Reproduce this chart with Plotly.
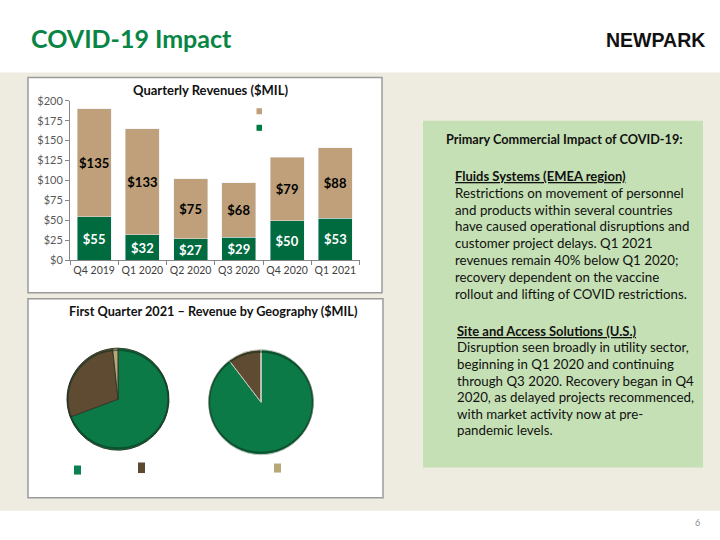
import plotly.graph_objects as go

# ---------------- data ----------------
quarters = ["Q4 2019", "Q1 2020", "Q2 2020", "Q3 2020", "Q4 2020", "Q1 2021"]
sas_revenue = [55, 32, 27, 29, 50, 53]          # green (bottom)
fluids_revenue = [135, 133, 75, 68, 79, 88]     # tan (top)

geo_labels = ["Region A", "Region B", "Region C"]
fluids_geo = [61, 25.5, 1.5]
sas_geo = [47.5, 5.5, 0]

yticks = [0, 25, 50, 75, 100, 125, 150, 175, 200]
yticklabels = ["$" + str(v) for v in yticks]

box_title = "Primary Commercial Impact of COVID-19:"
sec1_head = "Fluids Systems (EMEA region)"
sec1_lines = [
    "Restrictions on movement of personnel",
    "and products within several countries",
    "have caused operational disruptions and",
    "customer project delays. Q1 2021",
    "revenues remain 40% below Q1 2020;",
    "recovery dependent on the vaccine",
    "rollout and lifting of COVID restrictions.",
]
sec2_head = "Site and Access Solutions (U.S.)"
sec2_lines = [
    "Disruption seen broadly in utility sector,",
    "beginning in Q1 2020 and continuing",
    "through Q3 2020. Recovery began in Q4",
    "2020, as delayed projects recommenced,",
    "with market activity now at pre-",
    "pandemic levels.",
]

# ---------------- styling ----------------
W, H = 720, 540
FONT = "Lato"
GREEN_BAR = "#006B3F"
TAN_BAR = "#BFA07A"
PIE_COLORS = ["#0B7A47", "#5E4B32", "#B8A676"]
BEIGE = "#EEECE1"
BOXGREEN = "#C5E0B4"

# vertical calibration of the capture (target pixel -> figure pixel)
Y_OFF, Y_SCALE = 7.8, 0.971


def px(x):
    return x / W


def fy(y):
    return (y - Y_OFF) / Y_SCALE


def py(y):
    return 1 - fy(y) / H


PIE1 = (118, 398, 51)
PIE2 = (261, 401, 52.5)


def pie_domain(c):
    cx, cy, r = c
    return dict(x=[px(cx - r), px(cx + r)], y=[py(cy + r), py(cy - r)])


def pie_ring(c):
    cx, cy, r = c
    yc = fy(cy)
    return dict(type="circle", xref="paper", yref="paper",
                x0=px(cx - r + 0.8), x1=px(cx + r - 0.8),
                y0=1 - (yc + r - 0.8) / H, y1=1 - (yc - r + 0.8) / H,
                line=dict(color="rgba(15,45,25,0.55)", width=1.8), layer="above")


fig = go.Figure()

fig.add_trace(go.Bar(
    x=quarters, y=sas_revenue, marker_color=GREEN_BAR, width=0.7,
    text=["$" + str(v) for v in sas_revenue], textposition="inside", insidetextanchor="middle",
    textangle=0, constraintext="none",
    textfont=dict(family=FONT, size=13, color="white", weight="bold"),
    showlegend=False, name="SAS"))
fig.add_trace(go.Bar(
    x=quarters, y=fluids_revenue, marker_color=TAN_BAR, width=0.7,
    text=["$" + str(v) for v in fluids_revenue], textposition="inside", insidetextanchor="middle",
    textangle=0, constraintext="none",
    textfont=dict(family=FONT, size=13, color="black", weight="bold"),
    showlegend=False, name="Fluids"))

fig.add_trace(go.Pie(
    labels=geo_labels, values=fluids_geo, sort=False, direction="clockwise",
    marker=dict(colors=PIE_COLORS, line=dict(color="#2f3a2a", width=1)),
    textinfo="none", showlegend=False, domain=pie_domain(PIE1)))
fig.add_trace(go.Pie(
    labels=geo_labels, values=sas_geo, sort=False, direction="clockwise",
    marker=dict(colors=PIE_COLORS, line=dict(color="#c8c8c0", width=1)),
    textinfo="none", showlegend=False, domain=pie_domain(PIE2)))

shapes = [
    dict(type="rect", xref="paper", yref="paper", x0=0, x1=1, y0=py(509), y1=py(73),
         fillcolor=BEIGE, line_width=0, layer="below"),
    # bar panel
    dict(type="rect", xref="paper", yref="paper", x0=px(28), x1=px(382), y0=py(292), y1=py(78),
         fillcolor="white", line=dict(color="#9a9a9a", width=1.5), layer="below"),
    # pie panel
    dict(type="rect", xref="paper", yref="paper", x0=px(28), x1=px(383), y0=py(496), y1=py(298),
         fillcolor="white", line=dict(color="#9a9a9a", width=1.5), layer="below"),
    # text box
    dict(type="rect", xref="paper", yref="paper", x0=px(423), x1=px(703), y0=py(466), y1=py(121),
         fillcolor=BOXGREEN, line_width=0, layer="below"),
    # bar legend swatches
    dict(type="rect", xref="paper", yref="paper", x0=px(256.5), x1=px(262), y0=py(114.5), y1=py(108.5),
         fillcolor=TAN_BAR, line_width=0),
    dict(type="rect", xref="paper", yref="paper", x0=px(256.5), x1=px(262), y0=py(131), y1=py(125),
         fillcolor="#007A45", line_width=0),
    # pie legend swatches
    dict(type="rect", xref="paper", yref="paper", x0=px(74), x1=px(81), y0=py(473), y1=py(464),
         fillcolor="#0B8050", line_width=0),
    dict(type="rect", xref="paper", yref="paper", x0=px(138), x1=px(145), y0=py(471.5), y1=py(461),
         fillcolor="#5C4A30", line_width=0),
    dict(type="rect", xref="paper", yref="paper", x0=px(274), x1=px(281), y0=py(471), y1=py(462),
         fillcolor="#B8A878", line_width=0),
    pie_ring(PIE1),
    pie_ring(PIE2),
]

ann = [
    dict(text="<b>COVID-19 Impact</b>", x=px(29), y=py(39), xanchor="left", yanchor="middle",
         font=dict(family=FONT, size=25, color="#078544")),
    dict(text="<b>NEWPARK</b>", x=px(707), y=py(41), xanchor="right", yanchor="middle",
         font=dict(family="Liberation Sans", size=19.5, color="#111111")),
    dict(text="<b>Quarterly Revenues ($MIL)</b>", x=px(210), y=py(90), xanchor="center", yanchor="middle",
         font=dict(family=FONT, size=13, color="#111111")),
    dict(text="<b>First Quarter 2021 – Revenue by Geography ($MIL)</b>", x=px(213), y=py(310),
         xanchor="center", yanchor="middle", font=dict(family=FONT, size=12.7, color="#111111")),
    dict(text="<b>" + box_title + "</b>", x=px(564.5), y=py(139), xanchor="center", yanchor="middle",
         font=dict(family=FONT, size=12.7, color="#111111")),
    dict(text="6", x=px(697), y=py(521), xanchor="center", yanchor="middle",
         font=dict(family=FONT, size=9, color="#8c8c8c")),
]

LS = 16.7
ann.append(dict(text="<b>" + sec1_head + "</b>", x=px(453), y=py(176), xanchor="left", yanchor="middle",
                font=dict(family=FONT, size=13, color="#111111", lineposition="under")))
for i, t in enumerate(sec1_lines):
    ann.append(dict(text=t, x=px(453), y=py(176 + LS * (i + 1)), xanchor="left", yanchor="middle",
                    font=dict(family=FONT, size=13.3, color="#111111")))
ann.append(dict(text="<b>" + sec2_head + "</b>", x=px(455), y=py(330), xanchor="left", yanchor="middle",
                font=dict(family=FONT, size=13, color="#111111", lineposition="under")))
for i, t in enumerate(sec2_lines):
    ann.append(dict(text=t, x=px(455), y=py(330 + 16.5 * (i + 1)), xanchor="left", yanchor="middle",
                    font=dict(family=FONT, size=13.3, color="#111111")))

for a in ann:
    a.update(xref="paper", yref="paper", showarrow=False)

fig.update_layout(
    width=W, height=H, margin=dict(l=0, r=0, t=0, b=0), autosize=False,
    paper_bgcolor="white", plot_bgcolor="rgba(0,0,0,0)",
    barmode="stack", bargap=0.3,
    shapes=shapes, annotations=ann,
    xaxis=dict(domain=[px(70), px(359.5)], showgrid=False, showline=True, linecolor="#868686",
               ticks="outside", tickson="boundaries", ticklen=4, tickcolor="#868686", tickangle=0,
               tickfont=dict(family=FONT, size=10.5, color="#404040"), fixedrange=True),
    yaxis=dict(domain=[py(260), py(101)], range=[0, 200], tickvals=yticks, ticktext=yticklabels,
               showgrid=False, showline=True, linecolor="#868686", ticks="outside", ticklen=4,
               tickcolor="#868686", zeroline=False,
               tickfont=dict(family=FONT, size=11, color="#595959")),
)

fig.write_html("out.html", config={"responsive": False})
